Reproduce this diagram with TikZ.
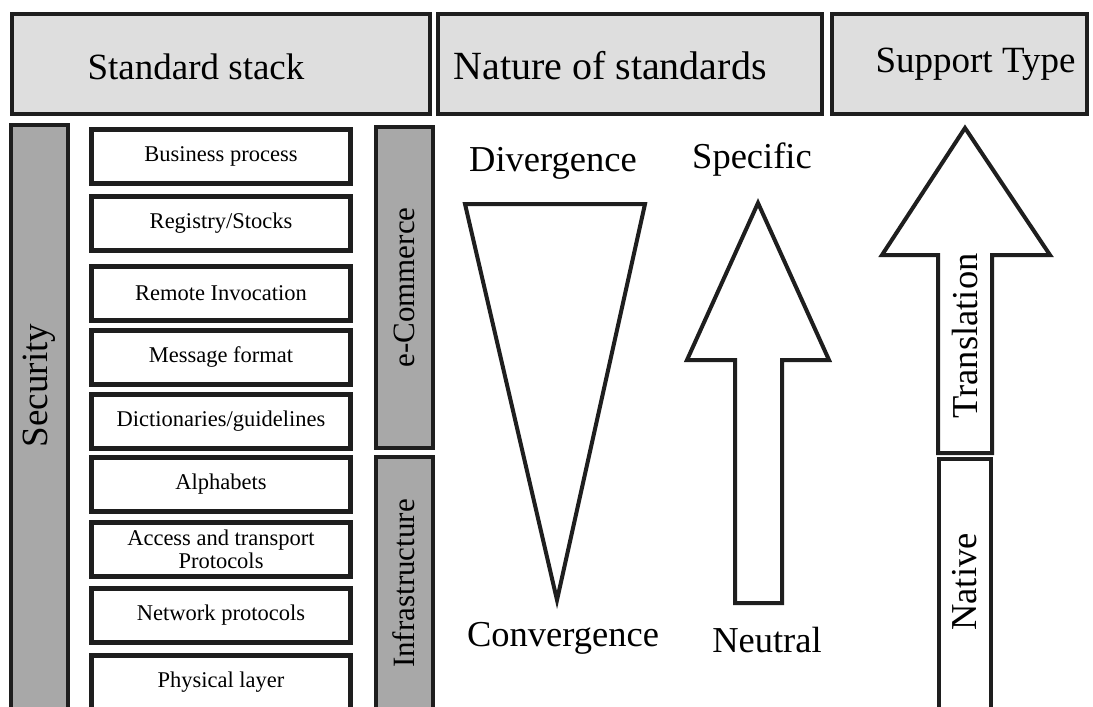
\documentclass[tikz,border=0pt]{standalone}
\usepackage{fontspec}
\setmainfont{Liberation Serif}
\usepackage{xcolor}
\usetikzlibrary{positioning}

\definecolor{headgray}{RGB}{222,222,222}
\definecolor{bargray}{RGB}{168,168,168}
\definecolor{edge}{RGB}{30,30,30}

\begin{document}
\begin{tikzpicture}[
    x=1pt, y=-1pt,
    head/.style={rectangle, draw=edge, line width=4pt, fill=headgray, minimum width=#1, minimum height=100pt, inner sep=0pt},
    headtext/.style={font=\fontsize{37}{40}\selectfont, inner sep=0pt},
    layer/.style={rectangle, draw=edge, line width=5pt, fill=white, minimum width=259pt, minimum height=54pt, inner sep=0pt, align=center, font=\fontsize{22.5}{23}\selectfont},
    bar/.style={rectangle, draw=edge, line width=4pt, fill=bargray, minimum width=57pt, minimum height=#1, inner sep=0pt, font=\fontsize{31}{34}\selectfont},
    outline/.style={draw=edge, line width=4pt, line join=miter, fill=white},
    tag/.style={font=\fontsize{36.5}{39}\selectfont, inner sep=0pt},
]
\useasboundingbox (0,0) rectangle (1093,707);
\fill[white] (0,0) rectangle (1093,707);

% Headers
\node[head=418pt, label={[headtext, xshift=-25pt, yshift=-3pt]center:Standard stack}] (hstack) at (221,64) {};
\node[head=384pt, label={[headtext, font=\fontsize{40}{42}\selectfont, xshift=-20pt, yshift=-2pt]center:Nature of standards}] (hnature) at (630,64) {};
\node[head=255pt, label={[headtext, xshift=16pt]center:Support Type}] (hsupport) at (959.5,64) {};

% Side bars
\node[bar=587pt, label={[rotate=90, font=\fontsize{37}{40}\selectfont, inner sep=0pt, xshift=33pt]center:Security}] (security) at (39.5,418.5) {};
\node[bar=321pt] (ecom) at (404,287.5) {\rotatebox{90}{e-Commerce}};
\node[bar=253pt] (infra) at (404,583.5) {\rotatebox{90}{Infrastructure}};

% Standard stack
\node[layer] (l1) at (221,156) {Business process};
\node[layer] (l2) at (221,223.5) {Registry/Stocks};
\node[layer] (l3) at (221,293) {Remote Invocation};
\node[layer] (l4) at (221,357) {Message format};
\node[layer] (l5) at (221,421.5) {Dictionaries/guidelines};
\node[layer] (l6) at (221,484) {Alphabets};
\node[layer] (l7) at (221,549) {Access and transport\\Protocols};
\node[layer] (l8) at (221,615) {Network protocols};
\node[layer] (l9) at (221,682) {Physical layer};

% Nature of standards
\draw[outline] (465,204) -- (645,204) -- (557,600) -- cycle;
\node[tag] (diverg) at (553,163) {Divergence};
\node[tag] (converg) at (563,638) {Convergence};

\draw[outline] (758,203) -- (829,360) -- (782,360) -- (782,603) -- (735,603) -- (735,360) -- (687,360) -- cycle;
\node[tag] (specific) at (752,160) {Specific};
\node[tag] (neutral) at (767,640) {Neutral};

% Support type
\draw[outline] (965,128) -- (1050,255) -- (992,255) -- (992,453) -- (938,453) -- (938,255) -- (882,255) -- cycle;
\node[tag] (transl) at (965,336) {\rotatebox{90}{Translation}};
\draw[outline] (939,459) rectangle (991,712);
\node[tag] (native) at (965,582) {\rotatebox{90}{Native}};

\end{tikzpicture}
\end{document}
